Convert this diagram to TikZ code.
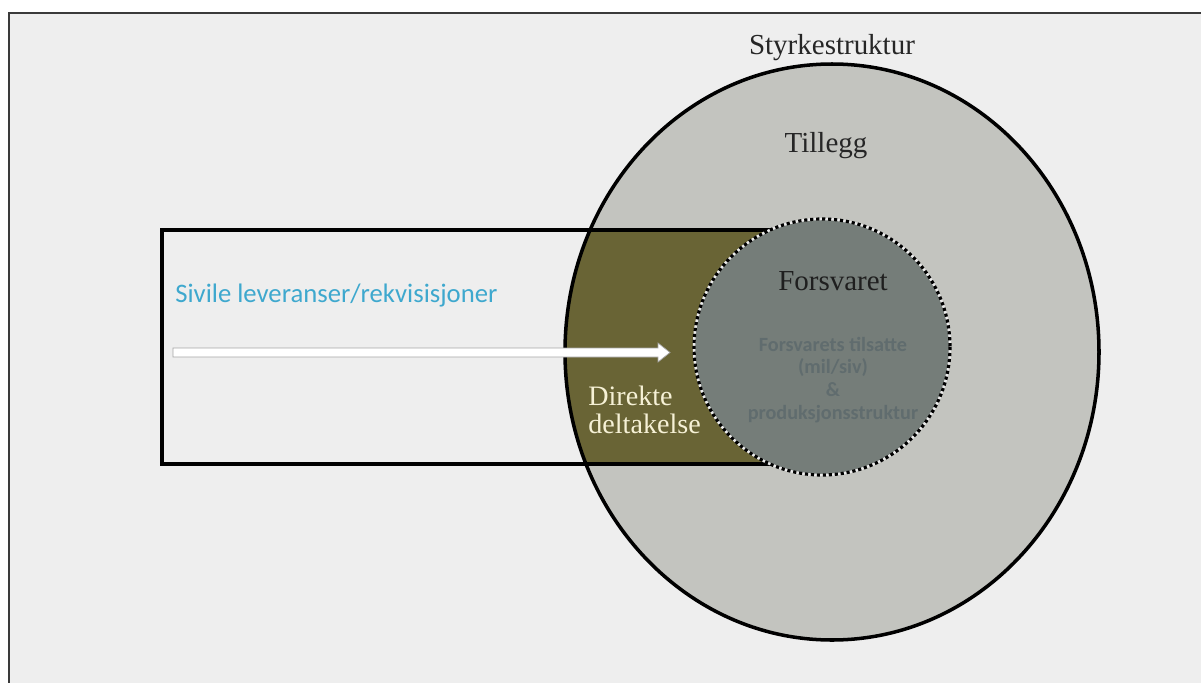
\documentclass[tikz,border=0pt]{standalone}
\usepackage{fontspec}
\setmainfont{Liberation Serif}
\newfontfamily\calibri{Carlito}
\usetikzlibrary{positioning, calc}

\definecolor{bggray}{HTML}{EEEEEE}
\definecolor{framegray}{HTML}{3A3A3A}
\definecolor{outergray}{RGB}{195,196,191}
\definecolor{olivefill}{RGB}{105,100,53}
\definecolor{innergray}{RGB}{117,125,121}
\definecolor{innertext}{RGB}{96,108,110}
\definecolor{skyblue}{RGB}{62,168,206}
\definecolor{cream}{RGB}{246,241,214}

\tikzset{
	serif/.style={font=\fontsize{16.5}{19}\selectfont, inner sep=0pt},
}

\begin{document}
\begin{tikzpicture}[x=0.02cm, y=-0.02cm]
		
		%Coordinates
		\coordinate (E) at (832,352);
		\coordinate (F) at (822,347);
		\coordinate (R1) at (162,230);
		\coordinate (R2) at (800,464);
		\coordinate (Astart) at (173,352.5);
		\coordinate (Atip) at (670,352.5);
		
		%Background
		\useasboundingbox (0,0) rectangle (1201,683);
		\fill[bggray] (9,13) rectangle (1201,683);
		\draw[framegray, line width=1.3pt] (9,683) -- (9,13) -- (1201,13);
		
		%Styrkestruktur
		\fill[outergray] (E) ellipse [x radius=267, y radius=288];
		\begin{scope}
			\clip (R1) rectangle (R2);
			\fill[olivefill] (E) ellipse [x radius=267, y radius=288];
		\end{scope}
		\draw[black, line width=2pt] (R1) rectangle (R2);
		\draw[black, line width=2pt] (E) ellipse [x radius=267, y radius=288];
		
		%Forsvaret
		\fill[innergray] (F) circle (128);
		\draw[white!85!gray, line width=1.4pt] (F) circle (128);
		\draw[black, line width=1.8pt, dash pattern=on 1.8pt off 1.6pt] (F) circle (128);
		
		%Arrow
		\draw[gray!70, line width=0.4pt, fill=white] ($(Astart)+(0,-4.5)$) -- ($(Atip)+(-12,-4.5)$) -- ++(0,-5) -- (Atip) -- ++(-12,9.5) -- ++(0,-5) -- ($(Astart)+(0,4.5)$) -- cycle;
		
		%Nodes
		\node[serif, text=black!85] (styrke) at (832,48) {Styrkestruktur};
		\node[serif, text=black!85] (tillegg) at (826,146) {Tillegg};
		\node[serif, text=black!88] (forsvaret) at (833,281) {Forsvaret};
		\node[font=\calibri\bfseries\fontsize{11.5}{13}\selectfont, text=innertext, align=center, inner sep=0pt] (tilsatte) at (833,380) {Forsvarets tilsatte\\(mil/siv)\\\&\\produksjonsstruktur};
		\node[font=\calibri\fontsize{15.2}{18}\selectfont, text=skyblue, anchor=west, inner sep=0pt] (sivile) at (175,296) {Sivile leveranser/rekvisisjoner};
		\node[font=\fontsize{16}{16}\selectfont, inner sep=0pt, text=cream, align=left, anchor=north west] (direkte) at (588,386) {Direkte\\deltakelse};
		
	\end{tikzpicture}
\end{document}
